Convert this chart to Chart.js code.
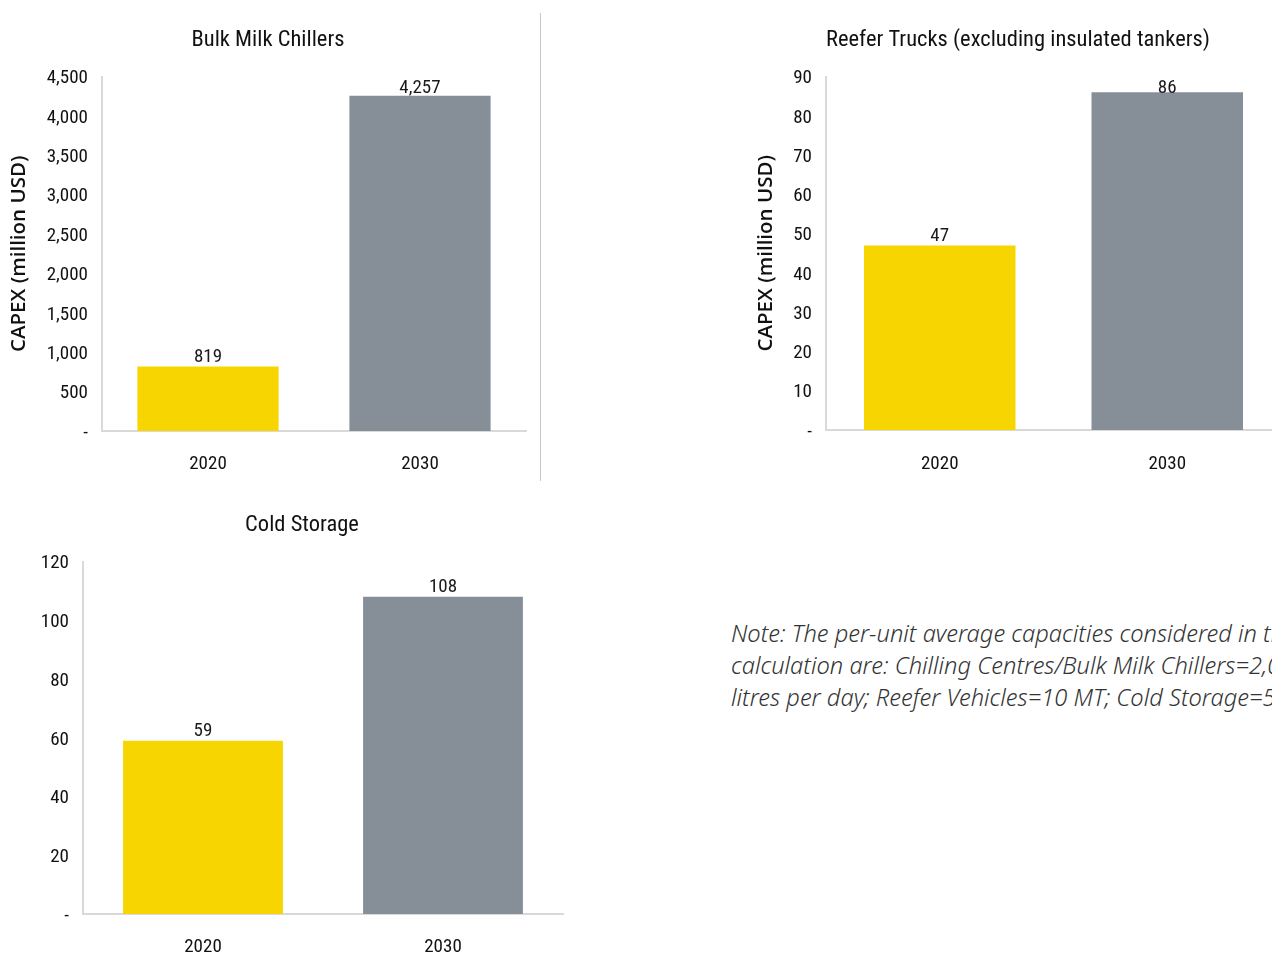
<!DOCTYPE html>
<html>
<head>
<meta charset="utf-8">
<script src="https://cdn.jsdelivr.net/npm/chart.js@4/dist/chart.umd.min.js"></script>
<style>
  html, body { margin: 0; padding: 0; background: #fff; width: 1272px; height: 953px; overflow: hidden; }
  .box { position: absolute; }
  .box canvas { display: block; }
  #divider { position: absolute; left: 540px; top: 13px; width: 1px; height: 468px; background: #c9c9c9; }
  #note { position: absolute; left: 731px; top: 617px; white-space: nowrap;
          font-family: "Noto Sans", "Open Sans", sans-serif; font-style: italic; font-weight: 300;
          font-size: 23.7px; line-height: 32px; color: #333; }
</style>
</head>
<body>
<div id="divider"></div>
<div class="box" id="b1" style="left:0;top:0;width:540px;height:490px"><canvas id="c1"></canvas></div>
<div class="box" id="b2" style="left:740px;top:0;width:556px;height:490px"><canvas id="c2"></canvas></div>
<div class="box" id="b3" style="left:0;top:480px;width:604px;height:500px"><canvas id="c3"></canvas></div>
<div id="note">Note: The per-unit average capacities considered in the<br>calculation are: Chilling Centres/Bulk Milk Chillers=2,000<br>litres per day; Reefer Vehicles=10 MT; Cold Storage=5,000 MT</div>
<script>
// Years on the category axis
const years = ['2020', '2030'];

// CAPEX in million USD
const bulkMilkChillers = [819, 4257];
const reeferTrucks = [47, 86];
const coldStorage = [59, 108];

// Chart titles
const titleBulk = 'Bulk Milk Chillers';
const titleReefer = 'Reefer Trucks (excluding insulated tankers)';
const titleCold = 'Cold Storage';
const yTitle = 'CAPEX (million USD)';

// Value-axis ranges
const bulkAxis = { max: 4500, step: 500 };
const reeferAxis = { max: 90, step: 10 };
const coldAxis = { max: 120, step: 20 };

const barColors = ['#F6D500', '#868F98'];
const narrow = '"Roboto Condensed", "Liberation Sans Narrow", sans-serif';
const axisLine = '#d9d9d9';

// Value labels above each bar, kept inside the plot area
const valueLabels = {
  id: 'valueLabels',
  afterDatasetsDraw(chart) {
    const { ctx, chartArea } = chart;
    const meta = chart.getDatasetMeta(0);
    const data = chart.data.datasets[0].data;
    ctx.save();
    ctx.font = '19px ' + narrow;
    ctx.fillStyle = '#1a1a1a';
    ctx.textAlign = 'center';
    ctx.textBaseline = 'middle';
    meta.data.forEach((bar, i) => {
      const y = Math.max(bar.y - 9.5, chartArea.top + 12);
      ctx.fillText(data[i].toLocaleString('en-US'), bar.x, y);
    });
    ctx.restore();
  }
};

function makeChart(id, title, values, axis, o) {
  return new Chart(document.getElementById(id), {
    type: 'bar',
    data: {
      labels: years,
      datasets: [{
        data: values,
        backgroundColor: barColors,
        borderWidth: 0,
        barPercentage: 0.666,
        categoryPercentage: 1
      }]
    },
    options: {
      responsive: true,
      maintainAspectRatio: false,
      animation: false,
      events: [],
      layout: { padding: { left: o.padLeft, right: o.padRight, top: 0, bottom: 0 } },
      plugins: {
        legend: { display: false },
        tooltip: { enabled: false },
        title: {
          display: true,
          text: title,
          color: '#111',
          font: { family: narrow, size: 22.5, weight: 'normal', lineHeight: 1.2 },
          padding: { top: o.titleTop, bottom: o.titleBottom }
        }
      },
      scales: {
        x: {
          grid: { display: false, drawTicks: false, tickLength: 0 },
          border: { display: true, color: axisLine, width: 2 },
          ticks: { color: '#111', font: { family: narrow, size: 19 }, padding: o.xPad, maxRotation: 0 },
          afterFit(scale) { scale.height = o.xHeight; }
        },
        y: {
          min: 0,
          max: axis.max,
          grid: { display: false, drawTicks: false, tickLength: 0 },
          border: { display: true, color: axisLine, width: 2 },
          ticks: {
            stepSize: axis.step,
            color: '#111',
            padding: 14,
            labelOffset: 2,
            font: { family: narrow, size: 19 },
            callback: (v) => v === 0 ? '-' : v.toLocaleString('en-US')
          },
          title: {
            display: o.showYTitle,
            text: yTitle,
            color: '#111',
            font: { family: '"Open Sans", "Noto Sans", sans-serif', size: 20.5, weight: 600, lineHeight: 0.85 },
            padding: { top: o.yTitleTop, bottom: 0 }
          },
          afterFit(scale) { scale.width = o.yWidth; }
        }
      }
    },
    plugins: [valueLabels]
  });
}

makeChart('c1', titleBulk, bulkMilkChillers, bulkAxis,
  { padLeft: 10, padRight: 14, titleTop: 27, titleBottom: 22.6, xHeight: 59, xPad: 22, yWidth: 92, showYTitle: true, yTitleTop: 0.5 });
makeChart('c2', titleReefer, reeferTrucks, reeferAxis,
  { padLeft: 15, padRight: 15, titleTop: 27, titleBottom: 22.6, xHeight: 60, xPad: 23, yWidth: 71, showYTitle: true, yTitleTop: 2.3 });
makeChart('c3', titleCold, coldStorage, coldAxis,
  { padLeft: 41, padRight: 41, titleTop: 32, titleBottom: 22.6, xHeight: 66, xPad: 22, yWidth: 42, showYTitle: false, yTitleTop: 0 });
</script>
</body>
</html>
